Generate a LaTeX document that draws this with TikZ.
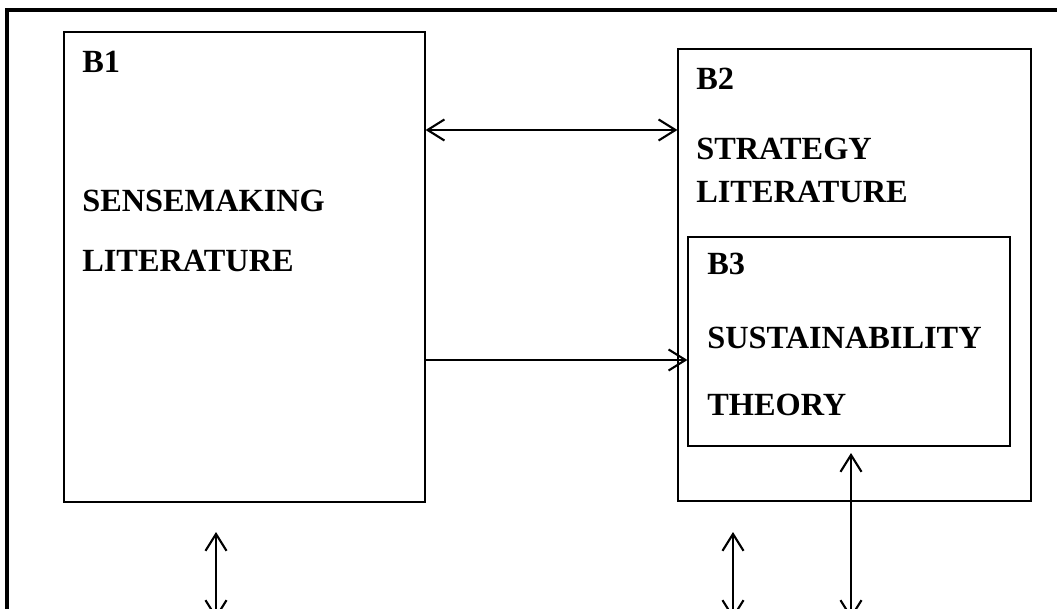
\documentclass[tikz,border=0pt]{standalone}
\usepackage{fontspec}
\setmainfont{Liberation Serif}
\usetikzlibrary{arrows.meta, positioning, fit, calc}

\begin{document}
\begin{tikzpicture}[x=0.025cm, y=-0.025cm,
    box/.style={draw, line width=0.8pt, inner sep=0pt},
    lbl/.style={anchor=base west, inner sep=0pt,
                font=\fontsize{23}{27}\selectfont\bfseries},
    barb/.style={line width=1.5pt},
    >={Straight Barb[length=12pt,width=15pt]}]
  % page area — the frame runs past the right and lower edges
  \useasboundingbox (0,0) rectangle (1057,609);
  \clip (0,0) rectangle (1057,609);
  \draw[line width=3pt] (7,10) rectangle (1100,680);
  % box corners
  \coordinate (b1nw) at (64,32);   \coordinate (b1se) at (425,502);
  \coordinate (b2nw) at (678,49);  \coordinate (b2se) at (1031,501);
  \coordinate (b3nw) at (688,237); \coordinate (b3se) at (1010,446);
  \node[box, fit=(b1nw)(b1se)] (b1) {};
  \node[box, fit=(b2nw)(b2se)] (b2) {};
  \node[box, fit=(b3nw)(b3se)] (b3) {};
  % texts
  \node[lbl] (b1id) at (82,73)   {B1};
  \node[lbl] (b1t1) at (82,212)  {SENSEMAKING};
  \node[lbl] (b1t2) at (82,272)  {LITERATURE};
  \node[lbl] (b2id) at (696,90)  {B2};
  \node[lbl] (b2t1) at (696,160) {STRATEGY};
  \node[lbl] (b2t2) at (696,203) {LITERATURE};
  \node[lbl] (b3id) at (707,275) {B3};
  \node[lbl] (b3t1) at (707,348) {SUSTAINABILITY};
  \node[lbl] (b3t2) at (707,415) {THEORY};
  % links between the boxes
  \draw[barb, <->] (b1.east |- 0,130) -- (b2.west |- 0,130);
  \draw[barb, ->]  (b1.east |- 0,360) -- (b3.west |- 0,360);
  % links from below the page
  \coordinate (s1) at (216,619); \coordinate (t1) at (216,532);
  \coordinate (s2) at (733,619); \coordinate (t2) at (733,532);
  \coordinate (s3) at (851,619); \coordinate (t3) at (851,453);
  \foreach \i in {1,2,3}{\draw[barb, <->] (s\i) -- (t\i);}
\end{tikzpicture}
\end{document}
